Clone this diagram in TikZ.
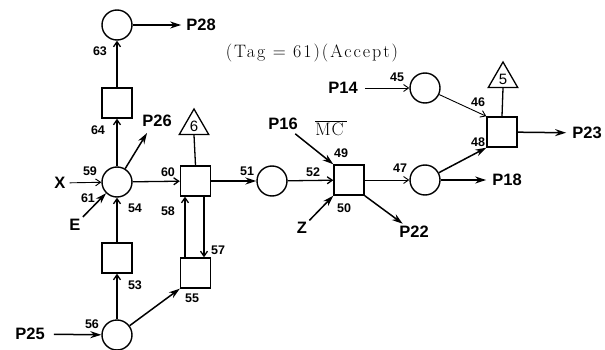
\documentclass[tikz,border=0pt]{standalone}
\usepackage{fontspec}
\setsansfont{Liberation Sans}
\newfontfamily\tagfont[LetterSpace=11]{Latin Modern Roman}
\usetikzlibrary{arrows.meta,shapes.geometric}
\begin{document}
\begin{tikzpicture}[x=1pt,y=-1pt,
  pl/.style={circle,draw,line width=1.4pt,minimum size=30pt,inner sep=0pt},
  tr/.style={rectangle,draw,line width=1.4pt,minimum size=30pt,inner sep=0pt},
  tri/.style={regular polygon,regular polygon sides=3,draw,line width=1.3pt,minimum size=34pt,inner sep=0pt,font=\sffamily\fontsize{15}{15}\selectfont},
  lab/.style={font=\sffamily\bfseries\fontsize{16.5}{18}\selectfont,inner sep=0pt},
  num/.style={font=\sffamily\bfseries\fontsize{12.5}{13}\selectfont,inner sep=0pt},
  big/.style={line width=1.5pt,-{Stealth[length=11pt,width=7pt]}},
  sm/.style={line width=1.3pt,-{Straight Barb[length=5pt,width=7pt]}},
  thn/.style={line width=0.9pt,-{Straight Barb[length=5pt,width=7pt]}},
  plain/.style={line width=1.3pt}
]
\useasboundingbox (0,0) rectangle (605,350);
% places and transitions
\node[pl] (c63) at (117,25) {};
\node[tr] (b64) at (117,103) {};
\node[pl] (c59) at (117,182) {};
\node[tr] (b54) at (117,258) {};
\node[pl] (c56) at (117,335) {};
\node[tr] (b60) at (195.5,181) {};
\node[tr] (b55) at (195.5,273) {};
\node[tri] (t6) at (194,126) {6};
\node[pl] (c51) at (272,181) {};
\node[tr] (b52) at (349,180) {};
\node[pl] (c47) at (425,180) {};
\node[pl] (c45) at (425,88) {};
\node[tr] (b46) at (502,132) {};
\node[tri] (t5) at (503,79) {5};
% texts
\node[lab] (P28) at (201,25) {P28};
\node[lab] (P26) at (157,121) {P26};
\node[lab] (X) at (60,183) {X};
\node[lab] (E) at (75,225) {E};
\node[lab] (P25) at (30,334) {P25};
\node[lab] (P16) at (283,124) {P16};
\node[lab] (P14) at (343,88) {P14};
\node[lab] (Z) at (302,228) {Z};
\node[lab] (P22) at (414,232) {P22};
\node[lab] (P18) at (507,180) {P18};
\node[lab] (P23) at (587,133) {P23};
\node[inner sep=0pt] (tag) at (312,53) {\tagfont\fontsize{18}{20}\selectfont (Tag = 61)(Accept)};
\node[inner sep=0pt] (mc) at (331,128) {\fontsize{18}{20}\selectfont$\overline{\mathrm{M\kern1pt C}\,}$};
\coordinate (p26e) at (147,133);
% number labels
\node[num] (n63) at (100,51) {63};
\node[num] (n64) at (98,130) {64};
\node[num] (n59) at (90,171) {59};
\node[num] (n61) at (88,198) {61};
\node[num] (n54) at (135,208) {54};
\node[num] (n53) at (135,285) {53};
\node[num] (n56) at (92,324) {56};
\node[num] (n55) at (192,298) {55};
\node[num] (n58) at (168,211) {58};
\node[num] (n57) at (218,250) {57};
\node[num] (n60) at (168,172) {60};
\node[num] (n51) at (247,171) {51};
\node[num] (n52) at (313,172) {52};
\node[num] (n49) at (341,153) {49};
\node[num] (n50) at (344,208) {50};
\node[num] (n47) at (400,168) {47};
\node[num] (n45) at (397,77) {45};
\node[num] (n46) at (478,102) {46};
\node[num] (n48) at (478,142) {48};
% connectors
\draw[big,shorten >=5pt] (c63) -- (P28);
\draw[sm] (b64) -- (c63);
\draw[sm] (c59) -- (b64);
\draw[big] (c59) -- (p26e);
\draw[thn,shorten <=4pt] (X) -- (c59);
\draw[big,shorten <=3pt] (E) -- (c59);
\draw[sm] (b54) -- (c59);
\draw[sm] (c56) -- (b54);
\draw[big,shorten <=9pt] (P25) -- (c56);
\draw[big] (c56) -- (b55.south west);
\draw[sm] ([xshift=-10.5pt]b55.north) -- ([xshift=-10.5pt]b60.south);
\draw[sm] ([xshift=8.5pt]b60.south) -- ([xshift=8.5pt]b55.north);
\draw[sm] (c59) -- (b60);
\draw[plain] (t6.south) -- (b60.north);
\draw[big] (b60) -- (c51);
\draw[sm] (c51) -- (b52);
\draw[big,shorten <=6pt] (P16) -- (b52.north west);
\draw[big,shorten <=3pt] (Z) -- (b52.south west);
\draw[big,shorten >=4pt] (b52.south east) -- (P22);
\draw[thn] (b52) -- (c47);
\draw[big,shorten >=6pt] (c47) -- (P18);
\draw[big] (c47) -- (b46.south west);
\draw[thn,shorten <=7pt] (P14) -- (c45);
\draw[thn] (c45) -- (b46.north west);
\draw[plain] (t5.south) -- (b46.north);
\draw[big,shorten >=6pt] (b46) -- (P23);
\end{tikzpicture}
\end{document}
